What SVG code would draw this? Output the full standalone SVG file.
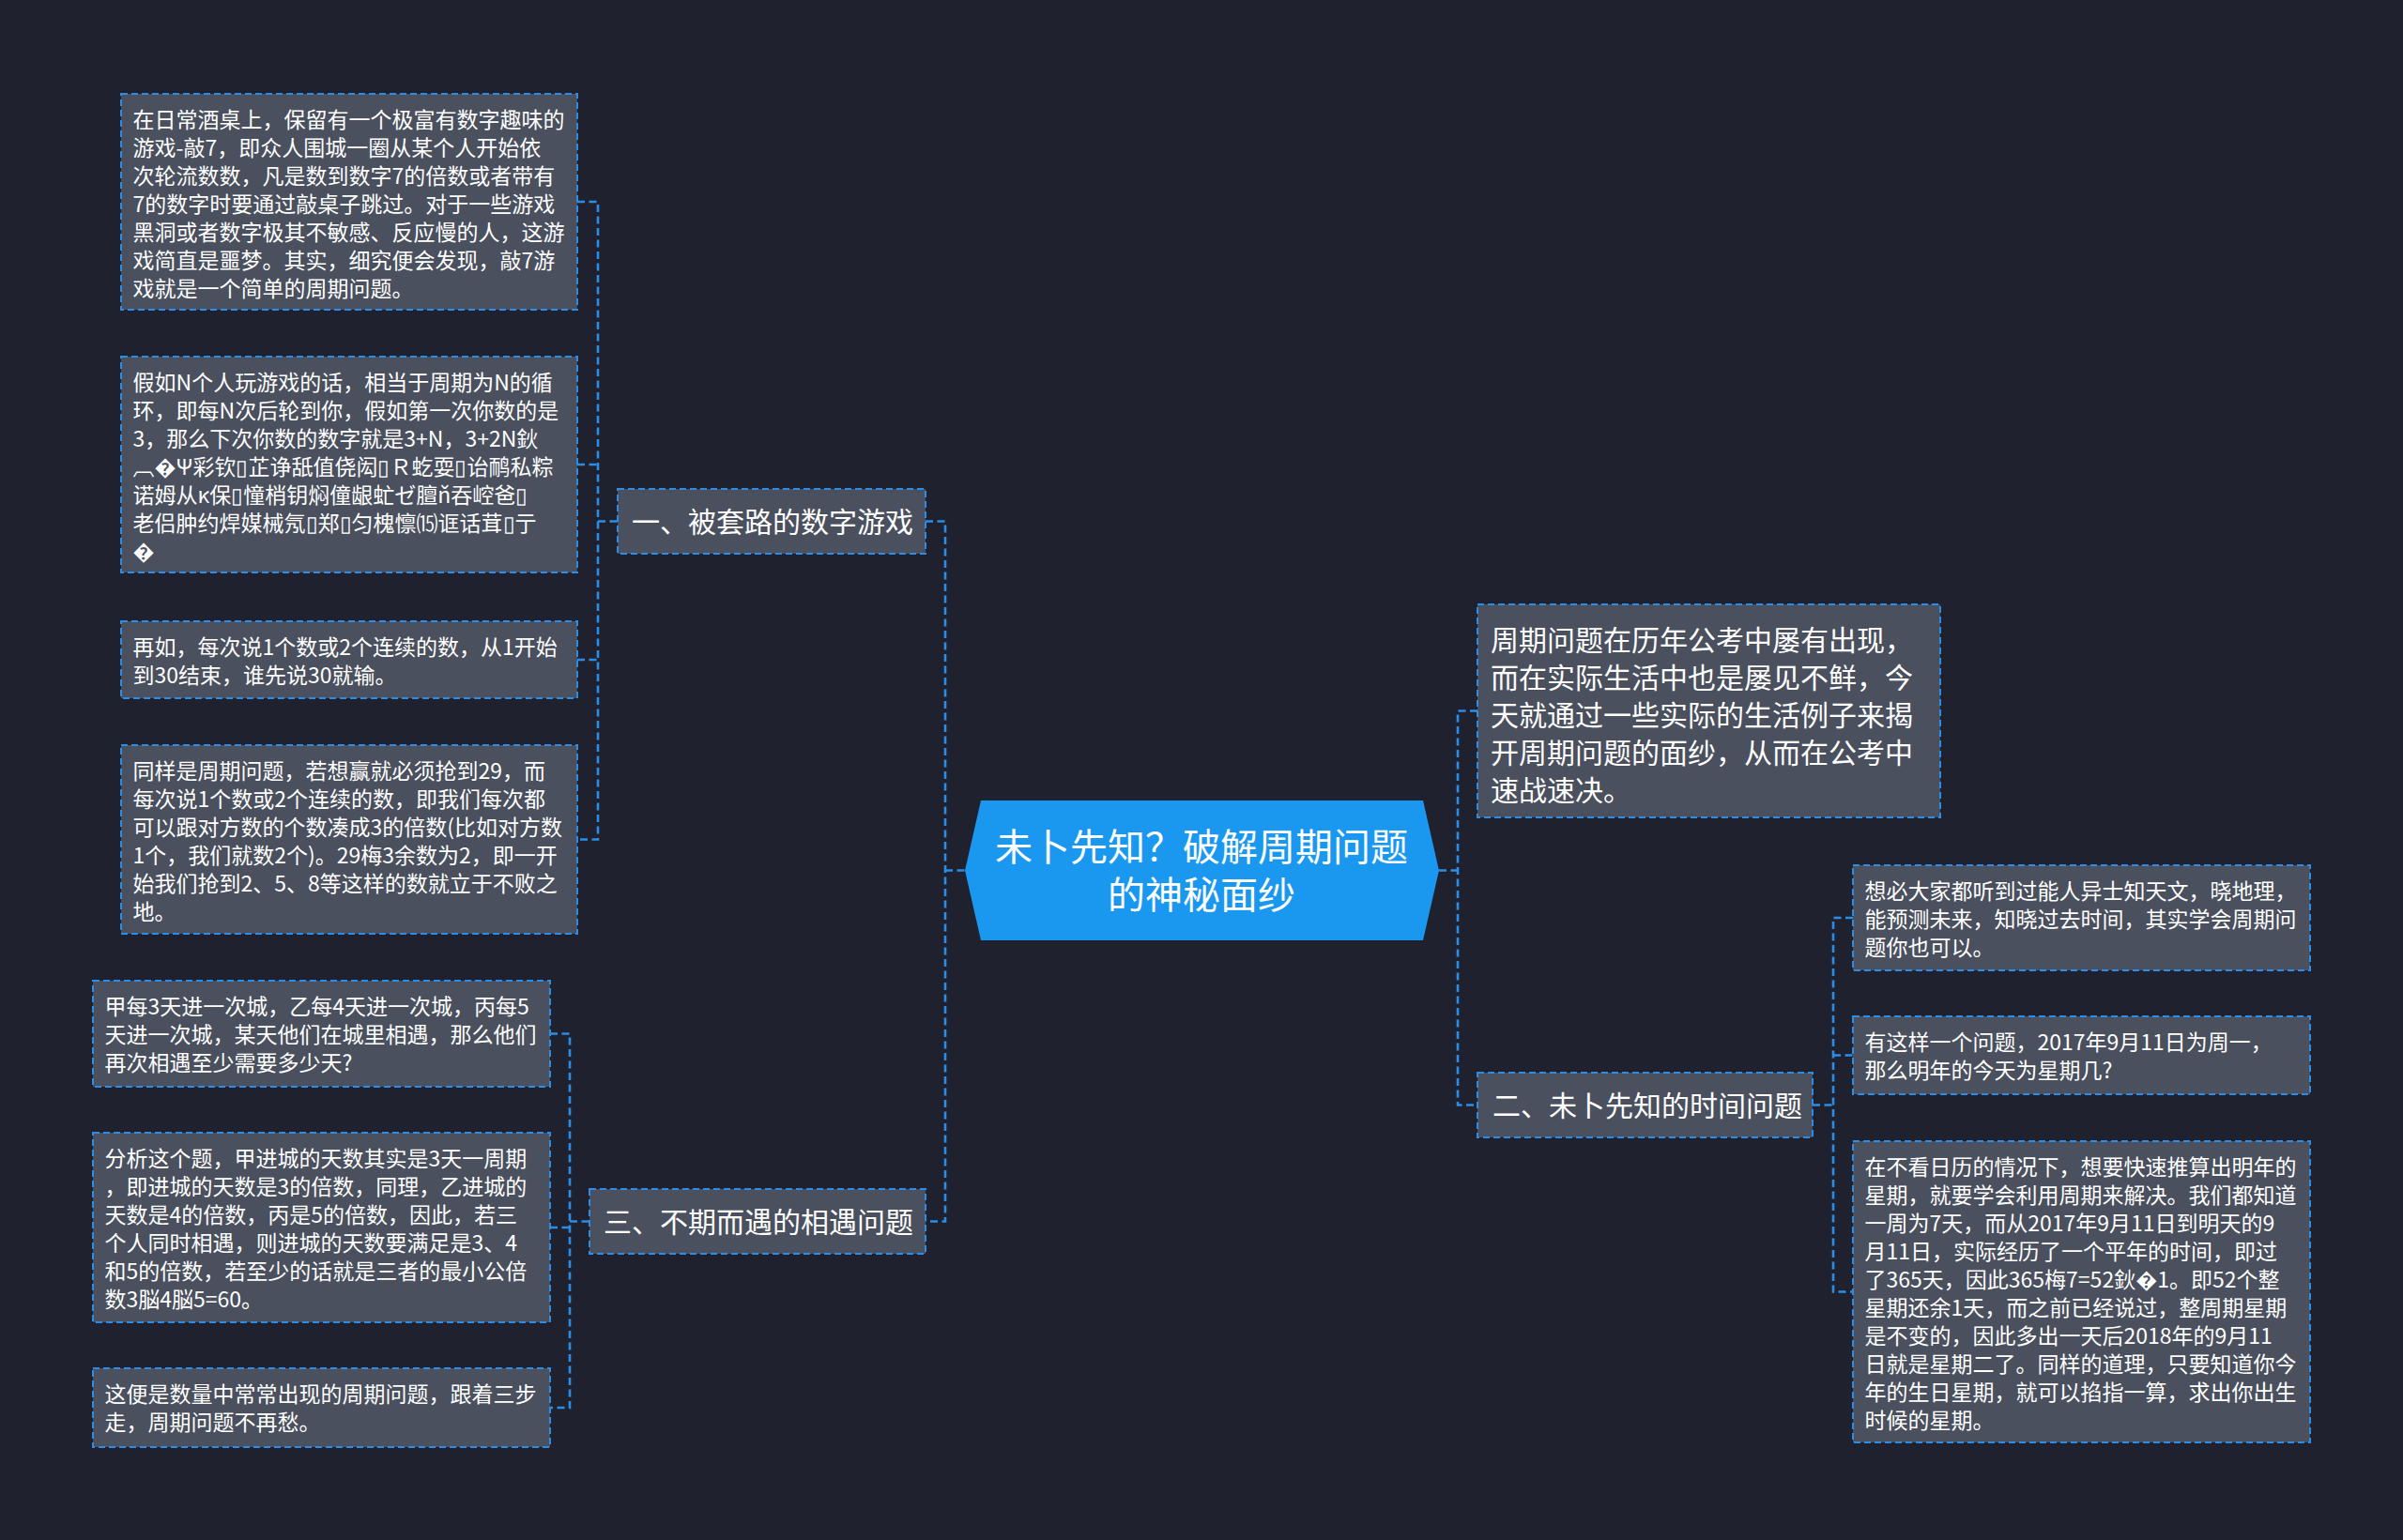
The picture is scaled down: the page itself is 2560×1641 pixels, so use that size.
<svg xmlns="http://www.w3.org/2000/svg" width="2560" height="1641" viewBox="0 0 2560 1641">
<style>
.bg{fill:#1f222e}
.box{fill:#4a505e;stroke:#2a8ee8;stroke-width:2;stroke-dasharray:7 4}
.root{fill:#1a98f0}
.conn{fill:none;stroke:#2a8ee8;stroke-width:2.6;stroke-dasharray:8 4.5}
text{font-family:"Noto Sans CJK SC","Noto Sans",sans-serif;fill:#ffffff}
.s{font-size:23px}
.m{font-size:30px}
.l{font-size:40px}
</style>
<rect class="bg" x="0" y="0" width="2560" height="1641"/>
<g id="connectors">
<path class="conn" d="M986,555.5 H1007 V1301.5 H986"/>
<path class="conn" d="M1007,927.5 H1028"/>
<path class="conn" d="M1574,757.5 H1553 V1177.5 H1574"/>
<path class="conn" d="M1533,927.5 H1553"/>
<path class="conn" d="M615,215 H637 V894.5 H615"/>
<path class="conn" d="M615,495 H637"/>
<path class="conn" d="M615,703 H637"/>
<path class="conn" d="M637,555.5 H658"/>
<path class="conn" d="M586,1101.5 H607 V1500 H586"/>
<path class="conn" d="M586,1308 H607"/>
<path class="conn" d="M607,1301.5 H628"/>
<path class="conn" d="M1974,978 H1953 V1376.5 H1974"/>
<path class="conn" d="M1953,1124.5 H1974"/>
<path class="conn" d="M1931,1177.5 H1953"/>
</g>
<g id="root">
<polygon class="root" points="1045,853 1516,853 1533,927.5 1516,1002 1045,1002 1028,927.5"/>
<text class="l" text-anchor="middle"><tspan x="1280" y="917">未卜先知？破解周期问题</tspan><tspan x="1280" y="968">的神秘面纱</tspan></text>
</g>
<g id="branch1">
<rect class="box" x="658" y="521" width="328" height="69"/>
<text class="m" x="673" y="567">一、被套路的数字游戏</text>
</g>
<g id="branch2">
<rect class="box" x="1574" y="1143" width="357" height="69"/>
<text class="m" x="1590" y="1189">二、未卜先知的时间问题</text>
</g>
<g id="branch3">
<rect class="box" x="628" y="1267" width="358" height="69"/>
<text class="m" x="643" y="1313">三、不期而遇的相遇问题</text>
</g>
<g id="intro">
<rect class="box" x="1574" y="644" width="493" height="227"/>
<text class="m"><tspan x="1588" y="693">周期问题在历年公考中屡有出现，</tspan><tspan x="1588" y="733">而在实际生活中也是屡见不鲜，今</tspan><tspan x="1588" y="773">天就通过一些实际的生活例子来揭</tspan><tspan x="1588" y="813">开周期问题的面纱，从而在公考中</tspan><tspan x="1588" y="853">速战速决。</tspan></text>
</g>
<g id="leafA">
<rect class="box" x="129" y="100" width="486" height="230"/>
<text class="s"><tspan x="141.5" y="136">在日常酒桌上，保留有一个极富有数字趣味的</tspan><tspan x="141.5" y="166">游戏-敲7，即众人围城一圈从某个人开始依</tspan><tspan x="141.5" y="196">次轮流数数，凡是数到数字7的倍数或者带有</tspan><tspan x="141.5" y="226">7的数字时要通过敲桌子跳过。对于一些游戏</tspan><tspan x="141.5" y="256">黑洞或者数字极其不敏感、反应慢的人，这游</tspan><tspan x="141.5" y="286">戏简直是噩梦。其实，细究便会发现，敲7游</tspan><tspan x="141.5" y="316">戏就是一个简单的周期问题。</tspan></text>
</g>
<g id="leafB">
<rect class="box" x="129" y="380" width="486" height="230"/>
<text class="s"><tspan x="141.5" y="416">假如N个人玩游戏的话，相当于周期为N的循</tspan><tspan x="141.5" y="446">环，即每N次后轮到你，假如第一次你数的是</tspan><tspan x="141.5" y="476">3，那么下次你数的数字就是3+N，3+2N鈥</tspan><tspan x="141.5" y="506">︹�Ψ彩钦▯芷诤舐值侥闳▯Ｒ虼耍▯诒鸸私粽</tspan><tspan x="141.5" y="536">诺姆从κ保▯憧梢钥焖僮龈虻ゼ膻ň吞崆爸▯</tspan><tspan x="141.5" y="566">老侣肿约焊媒械氖▯郑▯匀槐懔⒂诓话茸▯亍</tspan><tspan x="141.5" y="596">�</tspan></text>
</g>
<g id="leafC">
<rect class="box" x="129" y="662" width="486" height="82"/>
<text class="s"><tspan x="141.5" y="698">再如，每次说1个数或2个连续的数，从1开始</tspan><tspan x="141.5" y="728">到30结束，谁先说30就输。</tspan></text>
</g>
<g id="leafD">
<rect class="box" x="129" y="794" width="486" height="201"/>
<text class="s"><tspan x="141.5" y="830">同样是周期问题，若想赢就必须抢到29，而</tspan><tspan x="141.5" y="860">每次说1个数或2个连续的数，即我们每次都</tspan><tspan x="141.5" y="890">可以跟对方数的个数凑成3的倍数(比如对方数</tspan><tspan x="141.5" y="920">1个，我们就数2个)。29梅3余数为2，即一开</tspan><tspan x="141.5" y="950">始我们抢到2、5、8等这样的数就立于不败之</tspan><tspan x="141.5" y="980">地。</tspan></text>
</g>
<g id="leafE">
<rect class="box" x="99" y="1045" width="487" height="113"/>
<text class="s"><tspan x="111.5" y="1081">甲每3天进一次城，乙每4天进一次城，丙每5</tspan><tspan x="111.5" y="1111">天进一次城，某天他们在城里相遇，那么他们</tspan><tspan x="111.5" y="1141">再次相遇至少需要多少天?</tspan></text>
</g>
<g id="leafF">
<rect class="box" x="99" y="1207" width="487" height="202"/>
<text class="s"><tspan x="111.5" y="1243">分析这个题，甲进城的天数其实是3天一周期</tspan><tspan x="111.5" y="1273">，即进城的天数是3的倍数，同理，乙进城的</tspan><tspan x="111.5" y="1303">天数是4的倍数，丙是5的倍数，因此，若三</tspan><tspan x="111.5" y="1333">个人同时相遇，则进城的天数要满足是3、4</tspan><tspan x="111.5" y="1363">和5的倍数，若至少的话就是三者的最小公倍</tspan><tspan x="111.5" y="1393">数3脳4脳5=60。</tspan></text>
</g>
<g id="leafG">
<rect class="box" x="99" y="1458" width="487" height="84"/>
<text class="s"><tspan x="111.5" y="1494">这便是数量中常常出现的周期问题，跟着三步</tspan><tspan x="111.5" y="1524">走，周期问题不再愁。</tspan></text>
</g>
<g id="leafR1">
<rect class="box" x="1974" y="922" width="487" height="112"/>
<text class="s"><tspan x="1986.5" y="958">想必大家都听到过能人异士知天文，晓地理，</tspan><tspan x="1986.5" y="988">能预测未来，知晓过去时间，其实学会周期问</tspan><tspan x="1986.5" y="1018">题你也可以。</tspan></text>
</g>
<g id="leafR2">
<rect class="box" x="1974" y="1083" width="487" height="83"/>
<text class="s"><tspan x="1986.5" y="1119">有这样一个问题，2017年9月11日为周一，</tspan><tspan x="1986.5" y="1149">那么明年的今天为星期几?</tspan></text>
</g>
<g id="leafR3">
<rect class="box" x="1974" y="1216" width="487" height="321"/>
<text class="s"><tspan x="1986.5" y="1252">在不看日历的情况下，想要快速推算出明年的</tspan><tspan x="1986.5" y="1282">星期，就要学会利用周期来解决。我们都知道</tspan><tspan x="1986.5" y="1312">一周为7天，而从2017年9月11日到明天的9</tspan><tspan x="1986.5" y="1342">月11日，实际经历了一个平年的时间，即过</tspan><tspan x="1986.5" y="1372">了365天，因此365梅7=52鈥�1。即52个整</tspan><tspan x="1986.5" y="1402">星期还余1天，而之前已经说过，整周期星期</tspan><tspan x="1986.5" y="1432">是不变的，因此多出一天后2018年的9月11</tspan><tspan x="1986.5" y="1462">日就是星期二了。同样的道理，只要知道你今</tspan><tspan x="1986.5" y="1492">年的生日星期，就可以掐指一算，求出你出生</tspan><tspan x="1986.5" y="1522">时候的星期。</tspan></text>
</g>
</svg>
